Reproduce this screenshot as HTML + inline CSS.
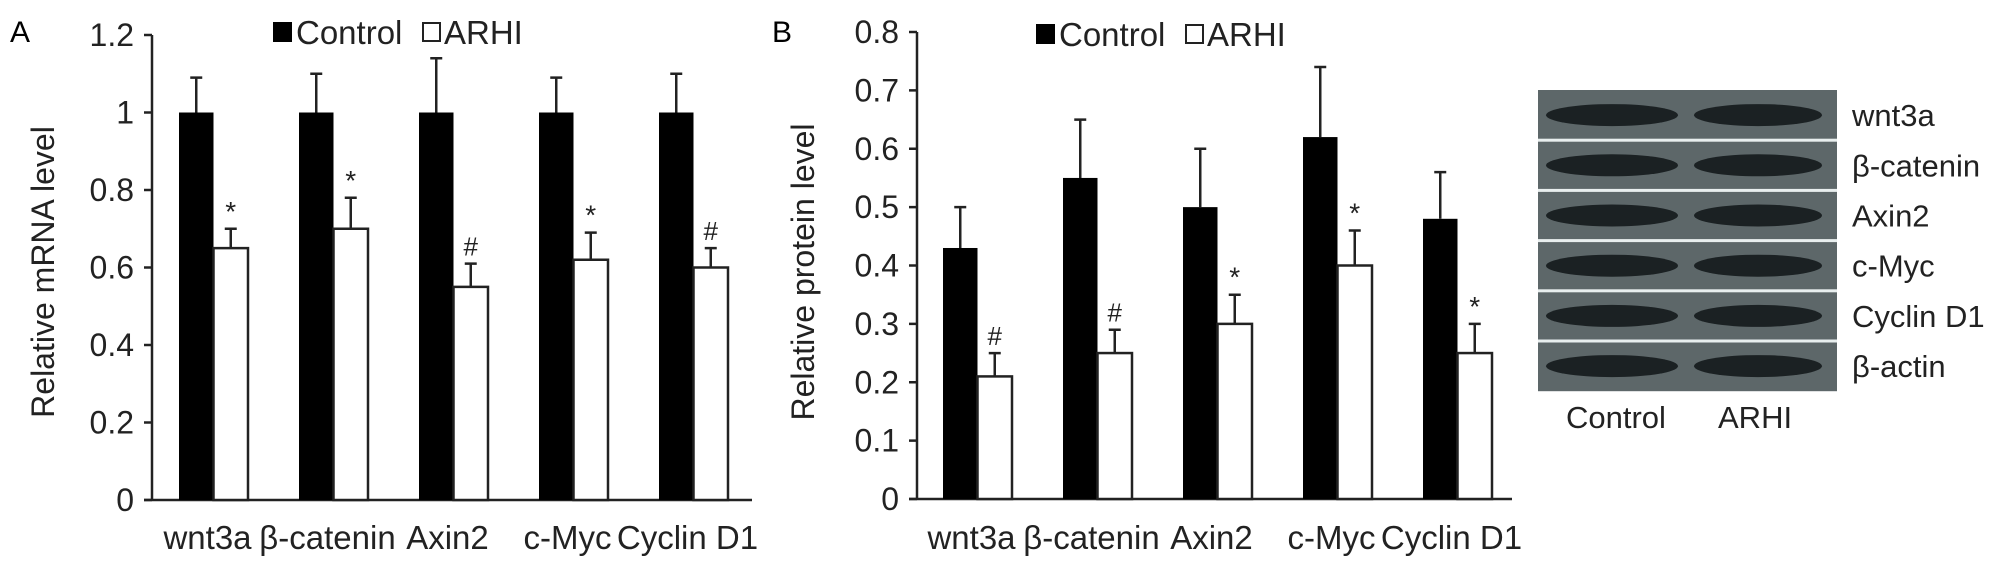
<!DOCTYPE html>
<html><head><meta charset="utf-8">
<style>
html,body{margin:0;padding:0;background:#fff;}
svg{display:block;font-family:"Liberation Sans",Arial,sans-serif;}
</style></head>
<body>
<svg id="fig" width="2002" height="569" viewBox="0 0 2002 569" xmlns="http://www.w3.org/2000/svg">
  <text x="10" y="42" font-size="30">A</text>
  <text x="772" y="42" font-size="30">B</text>
  <g id="panelA"></g>
  <g id="panelB"></g>
  <g id="blot"></g>
</svg>
<script>
const categories = ["wnt3a", "β-catenin", "Axin2", "c-Myc", "Cyclin D1"];
const mrnaControl = [1, 1, 1, 1, 1];
const mrnaControlErr = [0.09, 0.10, 0.14, 0.09, 0.10];
const mrnaArhi = [0.65, 0.70, 0.55, 0.62, 0.60];
const mrnaArhiErr = [0.05, 0.08, 0.06, 0.07, 0.05];
const mrnaMarks = ["*", "*", "#", "*", "#"];
const mrnaTicks = [0, 0.2, 0.4, 0.6, 0.8, 1, 1.2];
const mrnaTickLabels = ["0", "0.2", "0.4", "0.6", "0.8", "1", "1.2"];
const protControl = [0.43, 0.55, 0.50, 0.62, 0.48];
const protControlErr = [0.07, 0.10, 0.10, 0.12, 0.08];
const protArhi = [0.21, 0.25, 0.30, 0.40, 0.25];
const protArhiErr = [0.04, 0.04, 0.05, 0.06, 0.05];
const protMarks = ["#", "#", "*", "*", "*"];
const protTicks = [0, 0.1, 0.2, 0.3, 0.4, 0.5, 0.6, 0.7, 0.8];
const protTickLabels = ["0", "0.1", "0.2", "0.3", "0.4", "0.5", "0.6", "0.7", "0.8"];
const blotLabels = ["wnt3a", "β-catenin", "Axin2", "c-Myc", "Cyclin D1", "β-actin"];

const NS = "http://www.w3.org/2000/svg";
function mk(parent, tag, attrs, text) {
  const e = document.createElementNS(NS, tag);
  for (const k in attrs) e.setAttribute(k, attrs[k]);
  if (text !== undefined) e.textContent = text;
  parent.appendChild(e);
  return e;
}

function drawPanel(g, cfg) {
  const y = v => cfg.y0 - (v / cfg.yMax) * (cfg.y0 - cfg.yTop);
  const xCat = i => cfg.x0 + i * cfg.spacing;
  const ax = mk(g, "line", {x1: cfg.axisX, y1: y(cfg.yMax), x2: cfg.axisX, y2: cfg.y0, stroke: "#222", "stroke-width": 2.5});
  
  
  const xa = mk(g, "line", {x1: cfg.axisX - 8, y1: cfg.y0, x2: cfg.axisEnd, y2: cfg.y0, stroke: "#222", "stroke-width": 2.5});
  
  
  cfg.ticks.forEach((t, i) => {
    const tk = mk(g, "line", {x1: cfg.axisX - 8, y1: y(t), x2: cfg.axisX, y2: y(t), stroke: "#222", "stroke-width": 2.5});
    
    
    const tl = mk(g, "text", {x: cfg.axisX - 18, y: y(t) + 11, "font-size": 32, "text-anchor": "end", fill: "#222"}, cfg.tickLabels[i]);
    
    
  });
  const yt = mk(g, "text", {x: 0, y: 0, "font-size": 32, "text-anchor": "middle", fill: "#222", transform: `translate(${cfg.titleX},${cfg.titleY}) rotate(-90)`}, cfg.title);
  
  
  const bw = 34.5;
  categories.forEach((c, i) => {
    const xc = xCat(i);
    const b1 = mk(g, "rect", {x: xc, y: y(cfg.ctrl[i]), width: bw, height: cfg.y0 - y(cfg.ctrl[i]), fill: "#000"});
    
    
    const b2 = mk(g, "rect", {x: xc + bw, y: y(cfg.arhi[i]), width: bw, height: cfg.y0 - y(cfg.arhi[i]), fill: "#fff", stroke: "#222", "stroke-width": 2.5});
    
    
    [[xc + bw / 2, cfg.ctrl[i], cfg.ctrlErr[i]], [xc + bw * 1.5, cfg.arhi[i], cfg.arhiErr[i]]].forEach(([cx, v, e]) => {
      const eg = mk(g, "path", {d: `M${cx},${y(v)}V${y(v + e)}M${cx - 6},${y(v + e)}H${cx + 6}`, stroke: "#222", "stroke-width": 2.5, fill: "none"});
      
      
    });
    const m = mk(g, "text", {x: xc + bw * 1.5, y: y(cfg.arhi[i] + cfg.arhiErr[i]) - 8, "font-size": cfg.marks[i] === "*" ? 28 : 26, "text-anchor": "middle", fill: "#222"}, cfg.marks[i]);
    
    
    const xl = mk(g, "text", {x: xc + bw - 6, y: 549, "font-size": 33, "text-anchor": "middle", fill: "#222"}, c);
    
    
  });
  const l1 = mk(g, "rect", {x: cfg.legX, y: cfg.legY - 22, width: 19, height: 20, fill: "#000"});
  
  
  const lt1 = mk(g, "text", {x: cfg.legX + 23, y: cfg.legY, "font-size": 33, fill: "#222"}, "Control");
  
  
  const l2 = mk(g, "rect", {x: cfg.legX + 150, y: cfg.legY - 21, width: 17, height: 18, fill: "#fff", stroke: "#222", "stroke-width": 2});
  
  
  const lt2 = mk(g, "text", {x: cfg.legX + 171, y: cfg.legY, "font-size": 33, fill: "#222"}, "ARHI");
  
  
}

drawPanel(document.getElementById("panelA"), {
  axisX: 152, axisEnd: 752, y0: 500, yTop: 35, yMax: 1.2, x0: 179, spacing: 120,
  ticks: mrnaTicks, tickLabels: mrnaTickLabels, ctrl: mrnaControl, ctrlErr: mrnaControlErr,
  arhi: mrnaArhi, arhiErr: mrnaArhiErr, marks: mrnaMarks, title: "Relative mRNA level",
  titleX: 54, titleY: 272, legX: 273, legY: 44
});
drawPanel(document.getElementById("panelB"), {
  axisX: 917, axisEnd: 1512, y0: 499, yTop: 32, yMax: 0.8, x0: 943, spacing: 120,
  ticks: protTicks, tickLabels: protTickLabels, ctrl: protControl, ctrlErr: protControlErr,
  arhi: protArhi, arhiErr: protArhiErr, marks: protMarks, title: "Relative protein level",
  titleX: 814, titleY: 272, legX: 1036, legY: 46
});

const blot = document.getElementById("blot");
const bx = 1538, by = 90, bwid = 299, rowH = 50.2;
const bg = mk(blot, "rect", {x: bx, y: by, width: bwid, height: rowH * 6, fill: "#5d6769"});


blotLabels.forEach((lab, i) => {
  const ry = by + i * rowH;
  if (i > 0) {
    const sep = mk(blot, "rect", {x: bx, y: ry - 1.5, width: bwid, height: 3, fill: "#e8eeee"});
    
    
  }
  [[1612, 66], [1758, 64]].forEach(([cx, rx]) => {
    const band = mk(blot, "ellipse", {cx: cx, cy: ry + rowH / 2, rx: rx, ry: 11, fill: "#1b2123"});
    
    
  });
  const t = mk(blot, "text", {x: 1852, y: ry + rowH / 2 + 11, "font-size": 31, fill: "#222"}, lab);
  
  
});
const c1 = mk(blot, "text", {x: 1566, y: 428, "font-size": 31, fill: "#222"}, "Control");


const c2 = mk(blot, "text", {x: 1718, y: 428, "font-size": 31, fill: "#222"}, "ARHI");


</script>
</body></html>
